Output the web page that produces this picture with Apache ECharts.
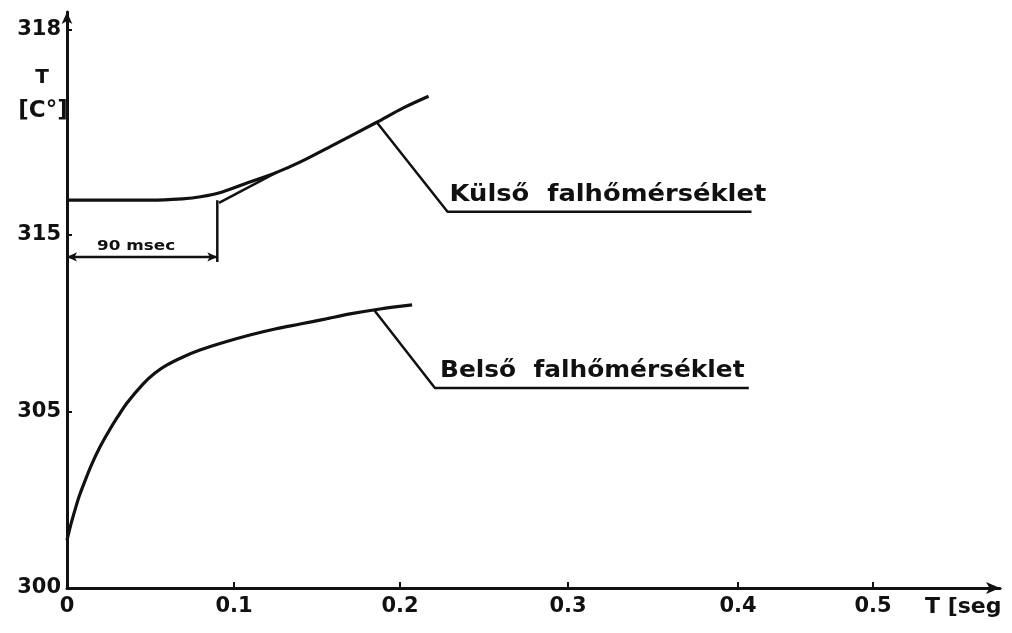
<!DOCTYPE html>
<html>
<head>
<meta charset="utf-8">
<script src="https://cdn.jsdelivr.net/npm/echarts@6/dist/echarts.min.js"></script>
<style>
  html, body { margin: 0; padding: 0; background: #fff; }
  #chart { width: 1012px; height: 633px; }
</style>
</head>
<body>
<div id="chart"></div>
<script>
// Axis ticks (time in seconds, temperature in °C)
const xTicks = [0, 0.1, 0.2, 0.3, 0.4, 0.5];
const xTickLabels = ['0', '0.1', '0.2', '0.3', '0.4', '0.5'];
const yTicks = [300, 305, 315, 318];
const yTickLabels = ['300', '305', '315', '318'];

// Külső falhőmérséklet (outer wall temperature)
const kulsoTime = [0, 0.03, 0.05, 0.069, 0.08, 0.093, 0.11, 0.126, 0.14, 0.16, 0.186, 0.202, 0.217];
const kulsoTemp = [315.51, 315.51, 315.51, 315.53, 315.56, 315.63, 315.78, 315.92, 316.07, 316.32, 316.65, 316.86, 317.03];

// Belső falhőmérséklet (inner wall temperature)
const belsoTime = [0, 0.0024, 0.0048, 0.0072, 0.0096, 0.0144, 0.0198, 0.0251, 0.0299, 0.0359, 0.0455, 0.0527,
  0.0599, 0.0695, 0.0796, 0.0946, 0.1096, 0.1247, 0.1398, 0.1548, 0.1699, 0.188, 0.2072];
const belsoTemp = [301.36, 301.82, 302.22, 302.59, 302.90, 303.47, 304.01, 304.46, 304.83, 305.51, 306.58, 307.20,
  307.66, 308.11, 308.50, 308.95, 309.35, 309.69, 309.97, 310.25, 310.54, 310.82, 311.05];

// Delay marker: 90 msec
const delayTime = 0.09;
const delayBarTemp = 313.76;
const delayTopTemp = 315.51;
const delayBottomTemp = 313.47;
const tangentTime = [0.091, 0.126];
const tangentTemp = [315.47, 315.92];

// Leader lines to the curve labels
const kulsoLeaderTime = [0.186, 0.2283, 0.41];
const kulsoLeaderTemp = [316.65, 315.34, 315.34];
const belsoLeaderTime = [0.1844, 0.2208, 0.408];
const belsoLeaderTemp = [310.76, 306.36, 306.36];

// The drawn scales are not uniform: each tick sits at its own distance along the axis.
const xTickPos = [0, 167, 333, 501, 671, 806];
const yTickPos = [0, 176, 353, 558];
const xAxisLen = 933, yAxisLen = 576;

function piecewise(v, ticks, pos) {
  let i = 0;
  while (i < ticks.length - 2 && v > ticks[i + 1]) i++;
  const t0 = ticks[i], t1 = ticks[i + 1];
  return pos[i] + (v - t0) / (t1 - t0) * (pos[i + 1] - pos[i]);
}
const mx = v => piecewise(v, xTicks, xTickPos);
const my = v => piecewise(v, yTicks, yTickPos);
const pts = (ts, vs) => ts.map((t, i) => [mx(t), my(vs[i])]);

function labelAt(v, pos, labels) {
  for (let i = 0; i < pos.length; i++) if (Math.abs(pos[i] - v) < 0.5) return labels[i];
  return '';
}

const FONT = 'DejaVu Sans';
const INK = '#111';

const chart = echarts.init(document.getElementById('chart'), null, { renderer: 'canvas' });

const lineSeries = (data, width, smooth) => ({
  type: 'line',
  data: data,
  symbol: 'none',
  smooth: smooth,
  silent: true,
  lineStyle: { color: INK, width: width },
  z: 3
});

const barPts = pts([0, delayTime], [delayBarTemp, delayBarTemp]);

chart.setOption({
  backgroundColor: '#fff',
  animation: false,
  grid: { left: 67, right: 12, top: 12, bottom: 45 },
  xAxis: {
    type: 'value', min: 0, max: xAxisLen,
    axisLine: { show: true, symbol: ['none', 'arrow'], symbolSize: [9, 14],
      lineStyle: { color: INK, width: 3 } },
    axisTick: { show: true, inside: true, length: 6, customValues: xTickPos.slice(1),
      lineStyle: { color: INK, width: 2 } },
    axisLabel: { show: true, customValues: xTickPos, margin: 8,
      formatter: v => labelAt(v, xTickPos, xTickLabels),
      color: INK, fontFamily: FONT, fontWeight: 'bold', fontSize: 21 },
    splitLine: { show: false }
  },
  yAxis: {
    type: 'value', min: 0, max: yAxisLen,
    axisLine: { show: true, symbol: ['none', 'arrow'], symbolSize: [8, 12],
      lineStyle: { color: INK, width: 3 } },
    axisTick: { show: true, inside: true, length: 5, customValues: yTickPos.slice(1),
      lineStyle: { color: INK, width: 2 } },
    axisLabel: { show: true, customValues: yTickPos, margin: 6,
      formatter: v => labelAt(v, yTickPos, yTickLabels),
      color: INK, fontFamily: FONT, fontWeight: 'bold', fontSize: 21 },
    splitLine: { show: false }
  },
  series: [
    lineSeries(pts(kulsoTime, kulsoTemp), 3.2, 0.3),
    lineSeries(pts(belsoTime, belsoTemp), 3.2, 0.3),
    lineSeries(pts(tangentTime, tangentTemp), 2.5, false),
    lineSeries(pts([delayTime, delayTime], [delayTopTemp, delayBottomTemp]), 2.5, false),
    Object.assign(lineSeries([
      { value: barPts[0], symbolRotate: 90 },
      { value: barPts[1], symbolRotate: -90 }
    ], 2.5, false), {
      symbol: 'arrow', symbolSize: [7, 10], showSymbol: true,
      itemStyle: { color: INK }
    }),
    lineSeries(pts(kulsoLeaderTime, kulsoLeaderTemp), 2.5, false),
    lineSeries(pts(belsoLeaderTime, belsoLeaderTemp), 2.5, false)
  ]
});

const px = (t, v) => chart.convertToPixel({ gridIndex: 0 }, [mx(t), my(v)]);
const kCorner = px(kulsoLeaderTime[1], kulsoLeaderTemp[1]);
const bCorner = px(belsoLeaderTime[1], belsoLeaderTemp[1]);
const barMid = px(delayTime / 2, delayBarTemp);
const origin = px(0, 300);

// hand-lettered captions are wider than the font, so they are stretched horizontally
const txt = (x, y, text, size, align, vAlign, sx) => ({
  type: 'text', x: x, y: y, scaleX: sx || 1, silent: true,
  style: { text: text, fill: INK, font: 'bold ' + size + 'px "' + FONT + '"',
    textAlign: align || 'left', textVerticalAlign: vAlign || 'bottom' }
});

chart.setOption({
  graphic: [
    txt(kCorner[0] + 2, kCorner[1] - 5, 'Külső  falhőmérséklet', 23, 'left', 'bottom', 1.12),
    txt(bCorner[0] + 5, bCorner[1] - 5, 'Belső  falhőmérséklet', 23, 'left', 'bottom', 1.08),
    txt(barMid[0] - 6, barMid[1] - 4, '90 msec', 14, 'center', 'bottom', 1.2),
    txt(42, 78, 'T', 20, 'center', 'middle'),
    txt(43, 111, '[C°]', 23, 'center', 'middle'),
    txt(origin[0] + 858, origin[1] + 8, 'T [seg', 22, 'left', 'top')
  ]
});
</script>
</body>
</html>
